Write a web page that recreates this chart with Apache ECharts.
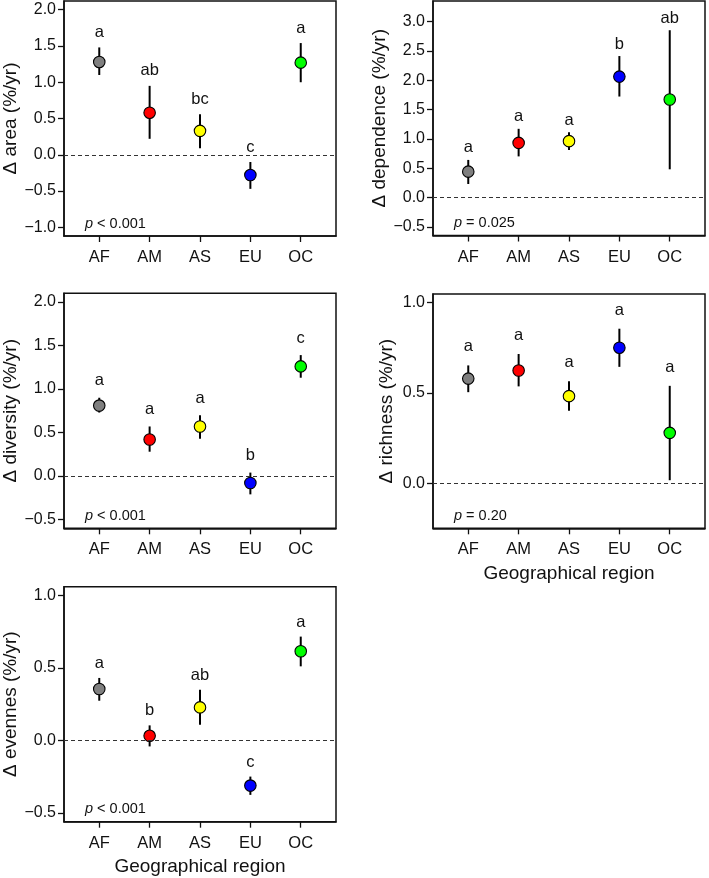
<!DOCTYPE html>
<html>
<head>
<meta charset="utf-8">
<script src="https://cdn.jsdelivr.net/npm/echarts@6/dist/echarts.min.js"></script>
<style>html,body{margin:0;padding:0;background:#fff;}#c{width:709px;height:878px;}</style>
</head>
<body>
<div id="c"></div>
<script>
const categories = ['AF', 'AM', 'AS', 'EU', 'OC'];
const pointColors = ['#7f7f7f', '#ff0000', '#ffff00', '#0000ff', '#00ff00'];

const areaMean = [1.28, 0.58, 0.33, -0.28, 1.27];
const areaLower = [1.10, 0.22, 0.09, -0.47, 1.00];
const areaUpper = [1.48, 0.95, 0.56, -0.10, 1.54];
const areaLetters = ['a', 'ab', 'bc', 'c', 'a'];
const areaTicks = [-1.0, -0.5, 0.0, 0.5, 1.0, 1.5, 2.0];

const depMean = [0.44, 0.93, 0.96, 2.06, 1.67];
const depLower = [0.23, 0.70, 0.81, 1.72, 0.48];
const depUpper = [0.64, 1.17, 1.11, 2.41, 2.85];
const depLetters = ['a', 'a', 'a', 'b', 'ab'];
const depTicks = [-0.5, 0.0, 0.5, 1.0, 1.5, 2.0, 2.5, 3.0];

const divMean = [0.81, 0.42, 0.57, -0.08, 1.26];
const divLower = [0.73, 0.28, 0.43, -0.21, 1.13];
const divUpper = [0.90, 0.57, 0.70, 0.04, 1.39];
const divLetters = ['a', 'a', 'a', 'b', 'c'];
const divTicks = [-0.5, 0.0, 0.5, 1.0, 1.5, 2.0];

const richMean = [0.58, 0.625, 0.483, 0.751, 0.28];
const richLower = [0.505, 0.537, 0.402, 0.645, 0.018];
const richUpper = [0.653, 0.716, 0.566, 0.856, 0.54];
const richLetters = ['a', 'a', 'a', 'a', 'a'];
const richTicks = [0.0, 0.5, 1.0];

const evenMean = [0.355, 0.032, 0.228, -0.311, 0.615];
const evenLower = [0.274, -0.041, 0.108, -0.375, 0.511];
const evenUpper = [0.431, 0.104, 0.35, -0.249, 0.716];
const evenLetters = ['a', 'b', 'ab', 'c', 'a'];
const evenTicks = [-0.5, 0.0, 0.5, 1.0];

const pValues = ['< 0.001', '= 0.025', '< 0.001', '= 0.20', '< 0.001'];
const yTitles = ['\u0394 area (%/yr)', '\u0394 dependence (%/yr)', '\u0394 diversity (%/yr)', '\u0394 richness (%/yr)', '\u0394 evennes (%/yr)'];
const xTitle = 'Geographical region';

const FONT = '"Liberation Sans", Arial, Helvetica, sans-serif';

// layout / style per panel
const panels = [
  {mean: areaMean, lower: areaLower, upper: areaUpper, letters: areaLetters, ticks: areaTicks,
   ymin: -1.12, ymax: 2.12, left: 64, top: 1, width: 272, height: 235, gap: 15, xname: false},
  {mean: depMean, lower: depLower, upper: depUpper, letters: depLetters, ticks: depTicks,
   ymin: -0.648, ymax: 3.348, left: 433, top: 1, width: 272, height: 234.5, gap: 12, xname: false},
  {mean: divMean, lower: divLower, upper: divUpper, letters: divLetters, ticks: divTicks,
   ymin: -0.6, ymax: 2.1, left: 64, top: 293.3, width: 272, height: 235, gap: 17, xname: false},
  {mean: richMean, lower: richLower, upper: richUpper, letters: richLetters, ticks: richTicks,
   ymin: -0.248, ymax: 1.048, left: 433, top: 294, width: 272, height: 234.3, gap: 18.5, xname: true},
  {mean: evenMean, lower: evenLower, upper: evenUpper, letters: evenLetters, ticks: evenTicks,
   ymin: -0.56, ymax: 1.06, left: 64, top: 586.7, width: 272, height: 235, gap: 14.5, xname: true}
];

const fmtY = v => (v < 0 ? '\u2212' : '') + Math.abs(v).toFixed(1);

const grid = [], xAxis = [], yAxis = [], series = [], title = [];
panels.forEach((p, i) => {
  grid.push({left: p.left, top: p.top, width: p.width, height: p.height, show: true,
    borderColor: '#111', borderWidth: 1.5, backgroundColor: 'transparent', containLabel: false});
  xAxis.push({
    type: 'value', gridIndex: i, min: 0.3, max: 5.7,
    axisLine: {show: true, onZero: false, lineStyle: {color: '#111', width: 1.5}},
    axisTick: {show: true, length: 6, customValues: [1, 2, 3, 4, 5], lineStyle: {color: '#111', width: 1.3}},
    axisLabel: {show: true, customValues: [1, 2, 3, 4, 5], margin: 13, color: '#111', fontSize: 16.5, fontFamily: FONT,
      formatter: v => categories[Math.round(v) - 1]},
    splitLine: {show: false},
    name: p.xname ? xTitle : '', nameLocation: 'middle', nameGap: 36,
    nameTextStyle: {fontSize: 19, color: '#111', fontFamily: FONT}
  });
  yAxis.push({
    type: 'value', gridIndex: i, min: p.ymin, max: p.ymax,
    axisLine: {show: true, lineStyle: {color: '#111', width: 1.5}},
    axisTick: {show: true, length: 6, customValues: p.ticks, lineStyle: {color: '#111', width: 1.3}},
    axisLabel: {show: true, customValues: p.ticks, margin: 8, color: '#111', fontSize: 16, fontFamily: FONT, formatter: fmtY},
    splitLine: {show: false},
    name: yTitles[i], nameLocation: 'middle', nameGap: 37,
    nameTextStyle: {fontSize: 19, color: '#111', fontFamily: FONT}
  });
  const xs = categories.map((c, k) => k + 1);
  series.push({
    type: 'custom', xAxisIndex: i, yAxisIndex: i, z: 2,
    data: xs.map((x, k) => [x, p.lower[k], p.upper[k]]),
    encode: {x: 0, y: [1, 2]},
    renderItem: (params, api) => {
      const a = api.coord([api.value(0), api.value(1)]);
      const b = api.coord([api.value(0), api.value(2)]);
      return {type: 'line', shape: {x1: a[0], y1: a[1], x2: b[0], y2: b[1]},
        style: {stroke: '#000', lineWidth: 2}};
    },
    silent: true
  });
  series.push({
    type: 'scatter', xAxisIndex: i, yAxisIndex: i, z: 3, symbolSize: 11.5,
    data: xs.map((x, k) => ({value: [x, p.mean[k]], itemStyle: {color: pointColors[k], borderColor: '#000', borderWidth: 1.1, opacity: 1}})),
    markLine: {silent: true, symbol: ['none', 'none'], label: {show: false},
      lineStyle: {type: [4, 3], color: '#333', width: 1}, data: [{yAxis: 0}], animation: false},
    silent: true
  });
  series.push({
    type: 'scatter', xAxisIndex: i, yAxisIndex: i, z: 4, symbolSize: 0,
    itemStyle: {opacity: 1},
    data: xs.map((x, k) => ({value: [x, p.upper[k]], name: p.letters[k]})),
    label: {show: true, position: 'inside', offset: [0, -p.gap], formatter: d => d.name,
      fontSize: 16.5, color: '#111', fontFamily: FONT, opacity: 1},
    silent: true
  });
  title.push({
    text: '{i|p} ' + pValues[i], left: p.left + 21, top: p.top + p.height - 20, padding: 0,
    textStyle: {fontSize: 14.5, fontWeight: 'normal', color: '#111', fontFamily: FONT,
      rich: {i: {fontStyle: 'italic', fontSize: 14.5, color: '#111', fontFamily: FONT}}}
  });
});

const chart = echarts.init(document.getElementById('c'), null, {renderer: 'canvas'});
chart.setOption({animation: false, backgroundColor: '#fff', grid, xAxis, yAxis, series, title});
</script>
</body>
</html>
